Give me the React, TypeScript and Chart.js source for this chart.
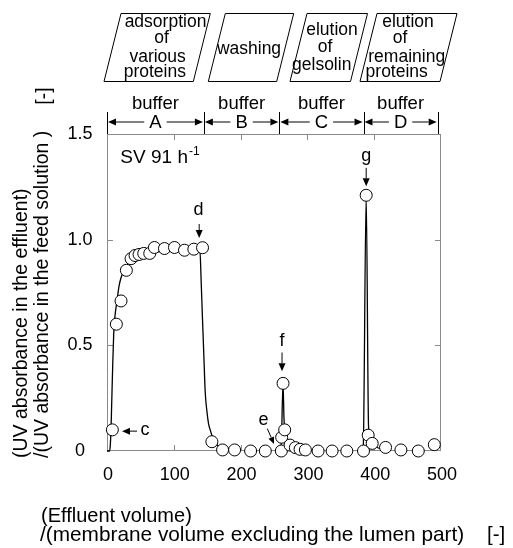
import React, { useEffect, useRef } from 'react';
import { Chart, registerables } from 'chart.js';

Chart.register(...registerables);

// measured points (open circles)
const volume = [8, 14, 21, 29, 36, 42, 48, 55, 64, 71, 86, 101, 116, 130, 143, 157, 173, 191, 215, 237, 261, 261.5, 263.5, 266, 274, 282, 289, 297, 316, 337, 359, 384, 388, 391, 397, 417, 440, 466, 490];
const absorbance = [0.10, 0.60, 0.71, 0.855, 0.91, 0.925, 0.93, 0.935, 0.935, 0.963, 0.958, 0.963, 0.95, 0.955, 0.962, 0.044, 0.005, 0.005, 0, 0, 0, 0.065, 0.32, 0.10, 0.028, 0.016, 0.008, 0.005, 0, 0, 0, 0, 1.21, 0.075, 0.036, 0.017, 0.005, 0, 0.03];

// model curve segments
const curveAX = [0, 4, 5, 6, 7, 8.5, 10, 12, 15, 18, 21, 25, 30, 40, 50, 70, 100, 139, 141, 143, 145, 147, 149.5, 152, 155, 158, 163, 170, 180, 192];
const curveAY = [0, 0, 0.03, 0.1, 0.22, 0.4, 0.55, 0.64, 0.71, 0.78, 0.82, 0.85, 0.88, 0.91, 0.925, 0.94, 0.95, 0.955, 0.8, 0.62, 0.45, 0.28, 0.19, 0.13, 0.095, 0.065, 0.035, 0.015, 0.006, 0.002];
const curveBX = [255, 259, 261, 263.5, 265, 266.5, 270, 276, 285, 300];
const curveBY = [0, 0.003, 0.04, 0.32, 0.15, 0.09, 0.05, 0.025, 0.01, 0.003];
const curveCX = [380, 383.5, 388, 391.5, 393, 396, 402, 412, 425];
const curveCY = [0, 0.01, 1.21, 0.12, 0.08, 0.04, 0.02, 0.01, 0.004];

const xTicks = [0, 100, 200, 300, 400, 500];
const xTickLabels = ['0', '100', '200', '300', '400', '500'];
const yTicks = [0, 0.5, 1.0, 1.5];
const yTickLabels = ['0', '0.5', '1.0', '1.5'];

const bufferBounds = [0, 145, 258, 384, 495];
const bufferNames = ['A', 'B', 'C', 'D'];

const phaseLines = [
  ['adsorption', 'of', 'various', 'proteins'],
  ['washing'],
  ['elution', 'of', 'gelsolin'],
  ['elution', 'of', 'remaining', 'proteins'],
];

const yTitle1 = '(UV absorbance in the effluent)';
const yTitle2 = '/(UV absorbance in the feed solution )';
const xTitle1 = '(Effluent volume)';
const xTitle2 = '/(membrane volume excluding the lumen part)';
const unitLabel = '[-]';

const FF = '"Liberation Sans", Arial, Helvetica, sans-serif';
const F = (s: number) => `${s}px ${FF}`;

function arrow(ctx: CanvasRenderingContext2D, x1: number, y1: number, x2: number, y2: number, head = 8, half = 3.5) {
  const ang = Math.atan2(y2 - y1, x2 - x1);
  const bx = x2 - head * Math.cos(ang);
  const by = y2 - head * Math.sin(ang);
  ctx.beginPath();
  ctx.moveTo(x1, y1);
  ctx.lineTo(bx, by);
  ctx.stroke();
  ctx.beginPath();
  ctx.moveTo(x2, y2);
  ctx.lineTo(bx + half * Math.sin(ang), by - half * Math.cos(ang));
  ctx.lineTo(bx - half * Math.sin(ang), by + half * Math.cos(ang));
  ctx.closePath();
  ctx.fill();
}

const framePlugin = {
  id: 'frame',
  beforeDatasetsDraw(chart: any) {
    const { ctx, chartArea: a, scales } = chart;
    const xs = scales.x, ys = scales.y;
    ctx.save();
    ctx.strokeStyle = '#8a8a8a';
    ctx.lineWidth = 1;
    ctx.strokeRect(a.left + 0.5, a.top + 0.5, a.right - a.left - 1, a.bottom - a.top - 1);
    ctx.beginPath();
    xTicks.forEach((v) => {
      if (v === 0 || v === 500) return;
      const px = Math.round(xs.getPixelForValue(v)) + 0.5;
      ctx.moveTo(px, a.bottom);
      ctx.lineTo(px, a.bottom - 6);
      ctx.moveTo(px, a.top);
      ctx.lineTo(px, a.top + 6);
    });
    yTicks.forEach((v) => {
      if (v === 0 || v === 1.5) return;
      const py = Math.round(ys.getPixelForValue(v)) + 0.5;
      ctx.moveTo(a.left, py);
      ctx.lineTo(a.left + 6, py);
      ctx.moveTo(a.right, py);
      ctx.lineTo(a.right - 6, py);
    });
    ctx.stroke();
    ctx.restore();
  },
  afterDraw(chart: any) {
    const { ctx, chartArea: a, scales } = chart;
    const xs = scales.x, ys = scales.y;
    const X = (v: number) => xs.getPixelForValue(v);
    const Y = (v: number) => ys.getPixelForValue(v);
    ctx.save();
    ctx.fillStyle = '#000';
    ctx.strokeStyle = '#000';
    ctx.lineWidth = 1;

    // tick labels
    ctx.font = F(18);
    ctx.textAlign = 'center';
    ctx.textBaseline = 'middle';
    xTicks.forEach((v, i) => ctx.fillText(xTickLabels[i], X(v) + 1, a.bottom + 24));
    yTicks.forEach((v, i) => ctx.fillText(yTickLabels[i], 80, Y(v)));

    // axis titles
    ctx.textAlign = 'left';
    ctx.font = F(20);
    ctx.fillText(xTitle1, 41, 516);
    ctx.font = F(20.8);
    ctx.fillText(xTitle2, 40, 535);
    ctx.font = F(20.5);
    ctx.fillText(unitLabel, 487, 535);

    ctx.font = F(19.5);
    ctx.save();
    ctx.translate(22, 458);
    ctx.rotate(-Math.PI / 2);
    ctx.fillText(yTitle1, 0, 0);
    ctx.restore();
    ctx.save();
    ctx.translate(43, 458);
    ctx.rotate(-Math.PI / 2);
    ctx.fillText(yTitle2, 0, 0);
    ctx.restore();
    ctx.save();
    ctx.translate(45, 96);
    ctx.rotate(-Math.PI / 2);
    ctx.textAlign = 'center';
    ctx.fillText(unitLabel, 0, 0);
    ctx.restore();

    // buffer brackets
    ctx.font = F(18.5);
    const bTop = a.top - 22;
    const bMid = a.top - 12;
    ctx.beginPath();
    bufferBounds.forEach((v) => {
      const px = Math.round(X(v)) + 0.5;
      ctx.moveTo(px, bTop);
      ctx.lineTo(px, a.top);
    });
    ctx.stroke();
    ctx.textAlign = 'center';
    for (let i = 0; i < bufferNames.length; i++) {
      const l = X(bufferBounds[i]) + 1;
      const r = X(bufferBounds[i + 1]) - 1;
      const c = (l + r) / 2;
      const w = ctx.measureText(bufferNames[i]).width / 2 + 5;
      arrow(ctx, c - w, bMid, l, bMid);
      arrow(ctx, c + w, bMid, r, bMid);
      ctx.fillText(bufferNames[i], c, bMid + 1);
      ctx.fillText('buffer', c, a.top - 30);
    }

    // phase boxes (parallelograms)
    ctx.font = F(17.5);
    const boxes = [
      { bl: 104, br: 193.3, centers: [165.5, 161.5, 157.6, 154.8] },
      { bl: 208.3, br: 276.7, centers: [249] },
      { bl: 290, br: 350.5, centers: [332, 325, 321.7] },
      { bl: 360, br: 440, centers: [408, 400, 406.7, 396.7] },
    ];
    const boxTop = 13.5, boxBot = 81.5, skew = 17;
    const lineY: Record<number, number[]> = { 1: [49], 3: [30, 46.7, 65], 4: [21.7, 38.3, 56.7, 71.7] };
    boxes.forEach((b, i) => {
      ctx.beginPath();
      ctx.moveTo(b.bl, boxBot);
      ctx.lineTo(b.bl + skew, boxTop);
      ctx.lineTo(b.br + skew, boxTop);
      ctx.lineTo(b.br, boxBot);
      ctx.closePath();
      ctx.stroke();
      const lines = phaseLines[i];
      const ysPos = lineY[lines.length];
      lines.forEach((t, j) => ctx.fillText(t, b.centers[j], ysPos[j]));
    });

    // point annotations
    ctx.font = F(18);
    ctx.textAlign = 'center';
    arrow(ctx, X(45), Y(0.094), X(22.5), Y(0.094));
    ctx.textAlign = 'left';
    ctx.fillText('c', X(50), Y(0.1));
    ctx.textAlign = 'center';
    ctx.fillText('d', X(137), Y(1.14));
    arrow(ctx, X(138), Y(1.074), X(138), Y(1.008));
    ctx.fillText('f', X(262), Y(0.52));
    arrow(ctx, X(262), Y(0.466), X(262), Y(0.377));
    ctx.fillText('g', X(388), Y(1.396));
    arrow(ctx, X(388), Y(1.34), X(388), Y(1.253));
    ctx.fillText('e', X(234.4), Y(0.146));
    arrow(ctx, X(240), Y(0.106), X(250), Y(0.033), 7, 3);

    // SV label
    ctx.font = F(19);
    ctx.textAlign = 'left';
    const svX = X(20), svY = Y(1.388);
    const base = 'SV 91 h';
    ctx.fillText(base, svX, svY);
    const w = ctx.measureText(base).width;
    ctx.font = F(12);
    ctx.fillText('-1', svX + w + 1, svY - 6);
    ctx.restore();
  },
};

function toXY(xs: number[], ys: number[]) {
  return xs.map((x, i) => ({ x, y: ys[i] }));
}

export default function App() {
  const ref = useRef<HTMLCanvasElement>(null);
  useEffect(() => {
    if (!ref.current) return;
    const lineStyle = {
      showLine: true,
      borderColor: '#000',
      borderWidth: 1.3,
      pointRadius: 0,
      cubicInterpolationMode: 'monotone' as const,
      order: 2,
      clip: false as any,
    };
    const chart = new Chart(ref.current, {
      type: 'scatter',
      data: {
        datasets: [
          {
            data: toXY(volume, absorbance),
            showLine: false,
            pointRadius: 6,
            pointBackgroundColor: '#fff',
            pointBorderColor: '#000',
            pointBorderWidth: 1,
            order: 1,
            clip: false as any,
          },
          { data: toXY(curveAX, curveAY), ...lineStyle },
          { data: toXY(curveBX, curveBY), ...lineStyle },
          { data: toXY(curveCX, curveCY), ...lineStyle },
        ],
      },
      options: {
        animation: false,
        responsive: false,
        layout: { padding: { left: 107, right: 72, top: 134, bottom: 97 } },
        plugins: { legend: { display: false }, tooltip: { enabled: false } },
        scales: {
          x: { type: 'linear', min: 0, max: 500, display: false },
          y: { type: 'linear', min: 0, max: 1.5, display: false },
        },
      },
      plugins: [framePlugin],
    });
    return () => chart.destroy();
  }, []);
  return (
    <div style={{ position: 'fixed', left: 0, top: 0, width: 513, height: 548, background: '#fff' }}>
      <canvas ref={ref} width={513} height={548} />
    </div>
  );
}
